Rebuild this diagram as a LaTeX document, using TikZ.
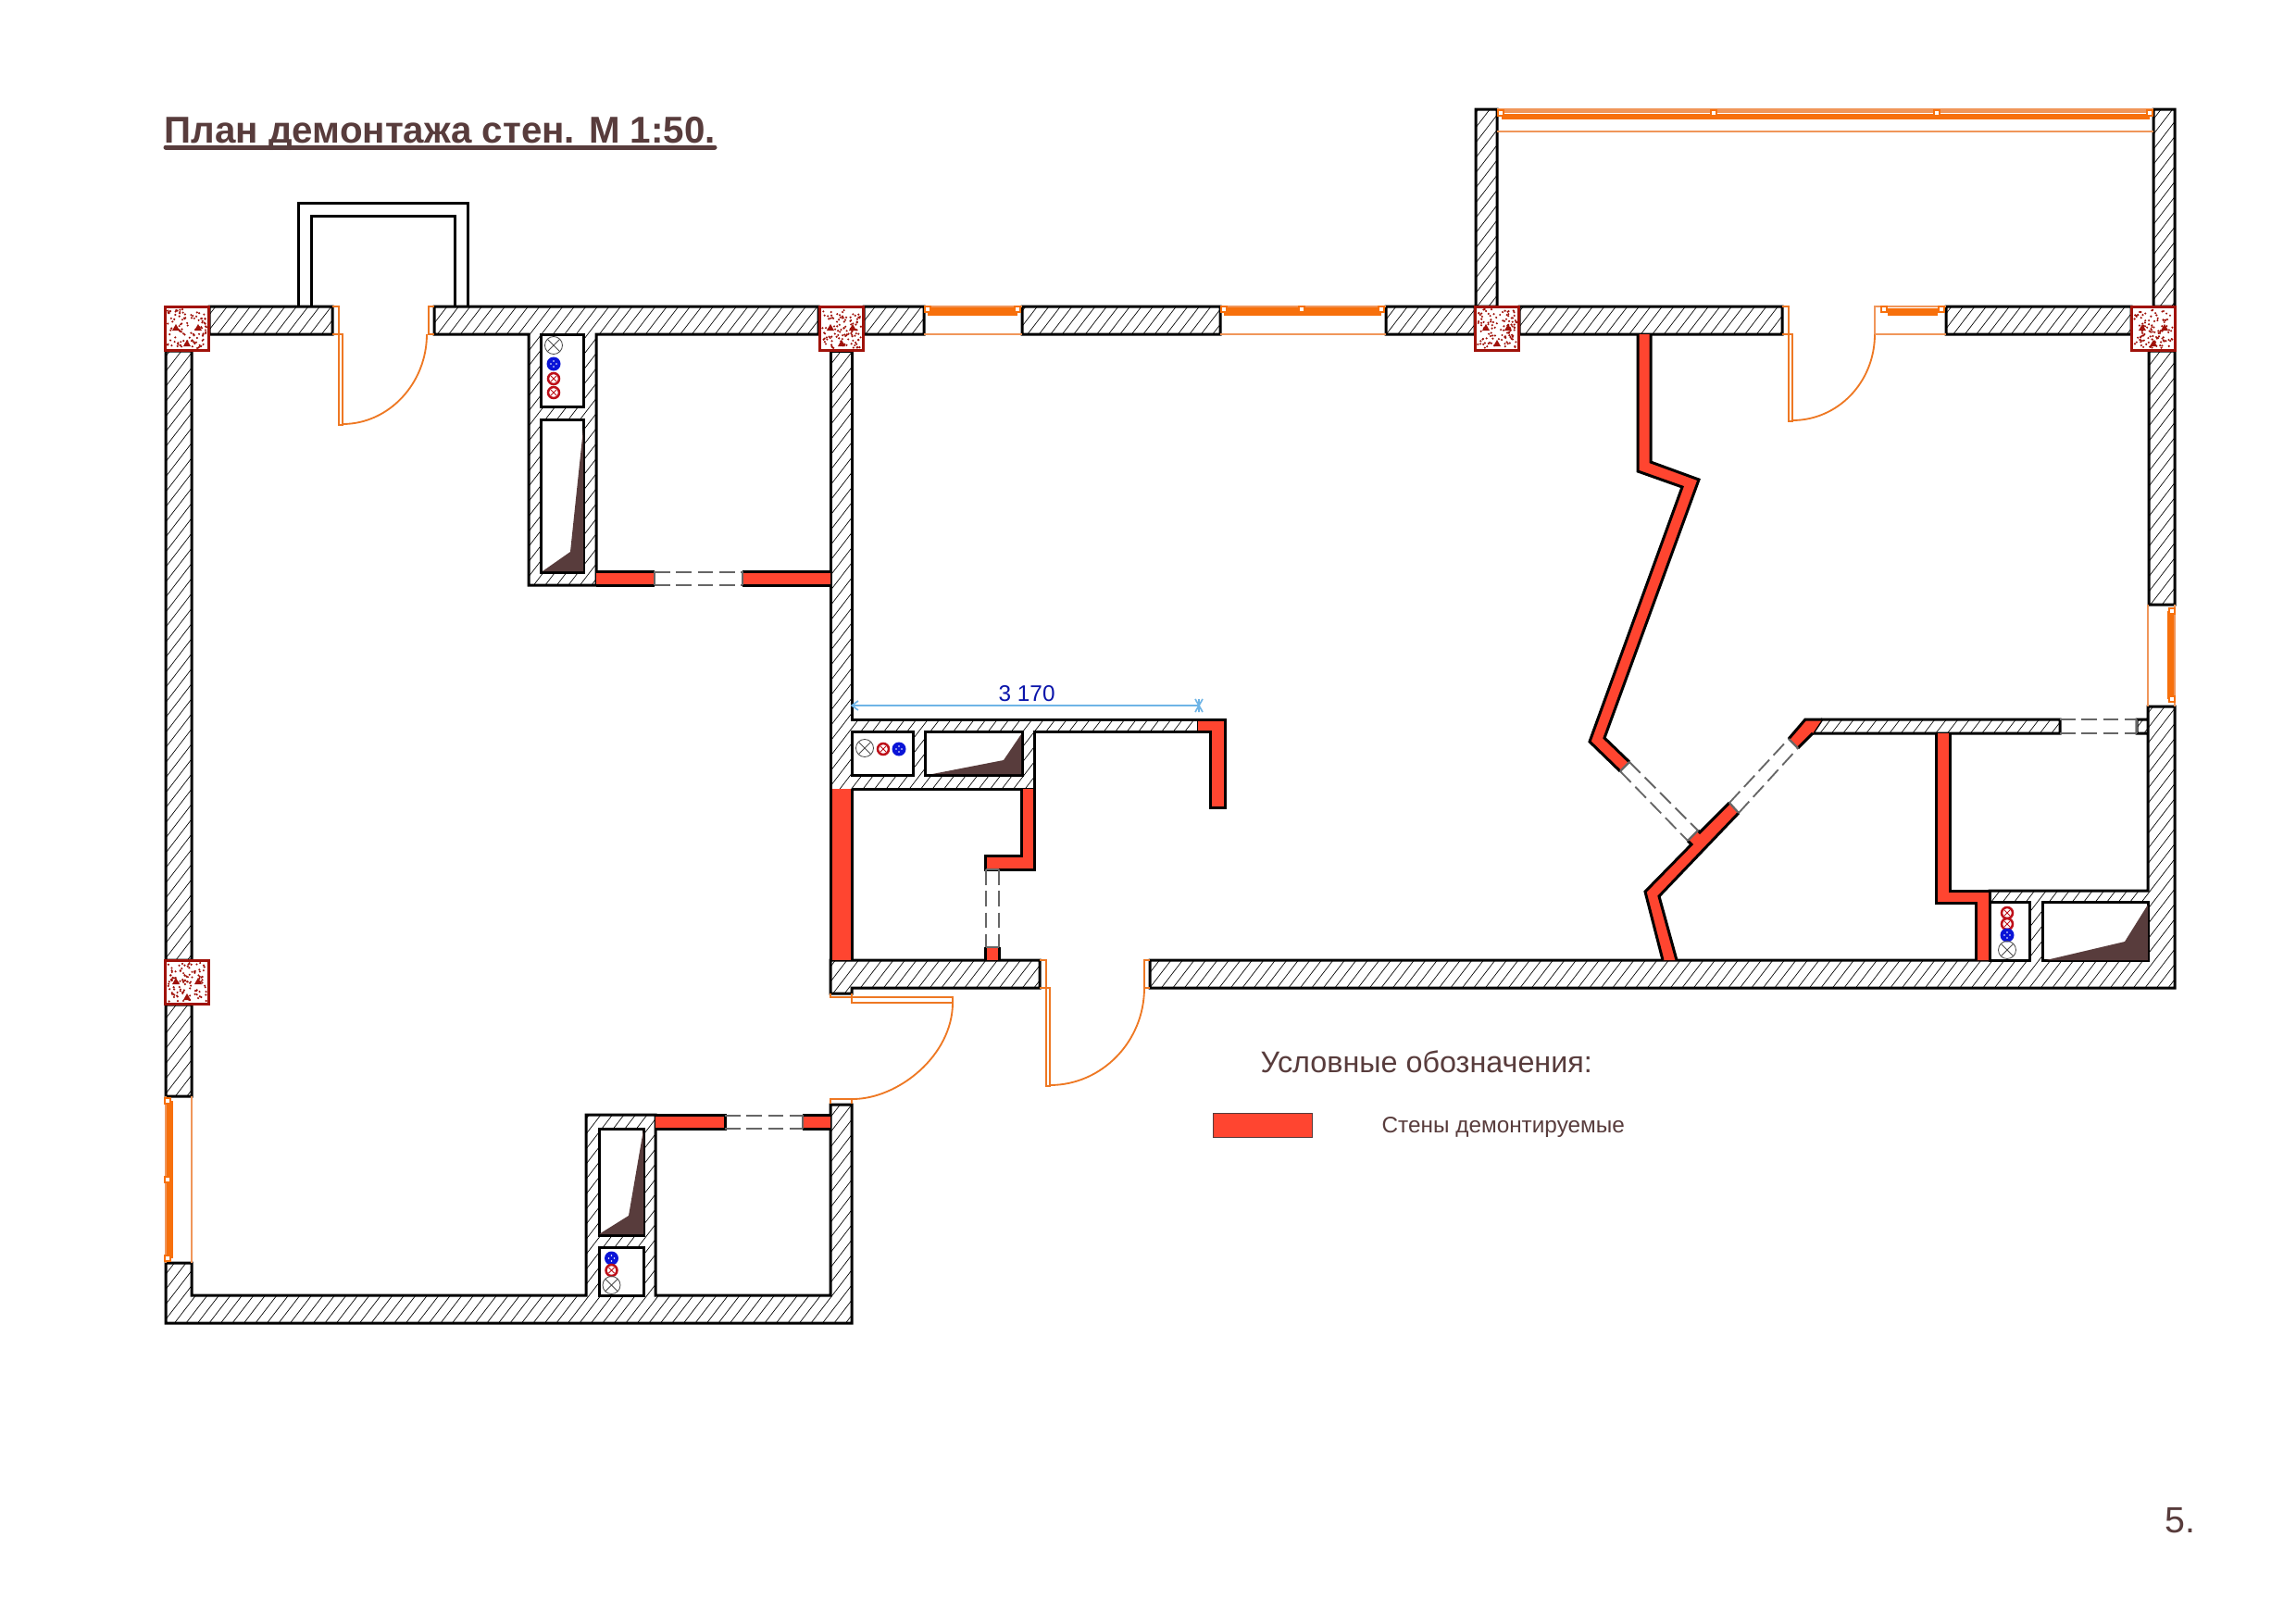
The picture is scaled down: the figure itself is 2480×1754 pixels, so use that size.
\documentclass[tikz,border=0pt]{standalone}
\usepackage{fontspec}
\setmainfont{Liberation Sans}
\definecolor{demored}{RGB}{255,69,48}
\definecolor{brownink}{RGB}{88,60,60}
\definecolor{winorange}{RGB}{247,112,12}
\definecolor{thinorange}{RGB}{240,150,90}
\definecolor{doororange}{RGB}{238,120,35}
\definecolor{pillarred}{RGB}{160,18,10}
\definecolor{dimblue}{RGB}{110,180,230}
\definecolor{dimtext}{RGB}{10,20,170}
\definecolor{pipered}{RGB}{190,15,25}
\definecolor{pipeblue}{RGB}{10,20,215}
\tikzset{
  wl/.style={line width=0.9pt,draw=black,line join=miter},
  hatchline/.style={line width=0.2pt,draw=black},
  demo/.style={fill=demored,draw=none},
  gone/.style={line width=0.55pt,draw=black!60,dash pattern=on 5pt off 2pt},
  goneend/.style={line width=0.65pt,draw=black!60},
  doorline/.style={line width=0.55pt,draw=doororange},
  winbar/.style={fill=winorange,draw=none},
  winthin/.style={line width=0.6pt,draw=thinorange},
  winsq/.style={line width=0.4pt,draw=winorange,fill=white},
  boxwall/.style={line width=0.9pt,draw=black,fill=white},
  wedge/.style={fill=brownink,draw=none},
  pillarframe/.style={line width=1.1pt,draw=pillarred},
  txt/.style={anchor=base west,inner sep=0pt,text=brownink}
}
% closed hatched walls
\def\ClosedWalls{
 (226,331)--(359,331)--(359,361)--(226,361)--cycle
 (469,331)--(884,331)--(884,361)--(644,361)--(644,632)--(571,632)--(571,361)--(469,361)--cycle
 (179,379)--(207,379)--(207,1037)--(179,1037)--cycle
 (179,1085)--(207,1085)--(207,1184)--(179,1184)--cycle
 (179,1364)--(207,1364)--(207,1399)--(633,1399)--(633,1204)--(708,1204)--(708,1399)--(897,1399)--(897,1193)--(920,1193)--(920,1429)--(179,1429)--cycle
 (897,1037)--(1123,1037)--(1123,1067)--(920,1067)--(920,1073)--(897,1073)--cycle
 (1242,1037)--(2149,1037)--(2149,962)--(2320,962)--(2320,763)--(2349,763)--(2349,1067)--(1242,1067)--cycle
 (1968,777)--(2225,777)--(2225,792)--(1958,792)--cycle
 (2308,777)--(2320,777)--(2320,792)--(2308,792)--cycle
 (933,331)--(998,331)--(998,361)--(933,361)--cycle
 (1104,331)--(1318,331)--(1318,361)--(1104,361)--cycle
 (1497,331)--(1593,331)--(1593,361)--(1497,361)--cycle
 (1641,331)--(1925,331)--(1925,361)--(1641,361)--cycle
 (2102,331)--(2302,331)--(2302,361)--(2102,361)--cycle
 (1594,118)--(1617,118)--(1617,331)--(1594,331)--cycle
 (2326,118)--(2349,118)--(2349,331)--(2326,331)--cycle
 (2321,379)--(2349,379)--(2349,653)--(2321,653)--cycle
}
\def\MidWall{(897,852)--(897,379)--(920,379)--(920,777)--(1294,777)--(1294,790)--(1117,790)--(1117,852)--(920,852)}
% symbols
\newcommand{\gaspipe}[2]{%
  \draw[line width=0.25pt,draw=black!70] (#1,#2) circle [radius=9.5];
  \draw[line width=0.25pt,draw=black!70] (#1-6.7,#2-6.7)--(#1+6.7,#2+6.7) (#1-6.7,#2+6.7)--(#1+6.7,#2-6.7);}
\newcommand{\redpipe}[2]{%
  \draw[line width=0.75pt,draw=pipered,fill=white] (#1,#2) circle [radius=6];
  \draw[line width=0.3pt,draw=pipered] (#1-3,#2-3)--(#1+3,#2+3) (#1-3,#2+3)--(#1+3,#2-3);}
\newcommand{\bluepipe}[2]{%
  \fill[pipeblue] (#1,#2) circle [radius=7.5];
  \fill[white] (#1,#2-3) circle [radius=.8] (#1,#2+3) circle [radius=.8] (#1-3,#2) circle [radius=.8] (#1+3,#2) circle [radius=.8];}
% pillar
\newcommand{\pillar}[2]{%
  \begin{scope}[shift={(#1,#2)}]
    \fill[white] (0,0) rectangle (48,48);
    \foreach \k in {1,...,110}{
      \pgfmathsetmacro\px{3+42*rnd}
      \pgfmathsetmacro\py{3+42*rnd}
      \fill[pillarred] (\px,\py) circle [radius=1.2];
    }
    \fill[pillarred] (12,19)--(16,26)--(8,26)--cycle (36,19)--(40,26)--(32,26)--cycle (24,36)--(28,43)--(20,43)--cycle;
    \draw[pillarframe] (0.5,0.5) rectangle (47.5,47.5);
  \end{scope}}
% sliding marks
\newcommand{\winsqat}[2]{\draw[winsq] (#1-3,#2-3) rectangle (#1+3,#2+3);}
\begin{document}
\begin{tikzpicture}[x=0.3pt,y=-0.3pt]
\useasboundingbox (0,0) rectangle (2480,1754);
\fill[white] (0,0) rectangle (2480,1754);
\pgfmathsetseed{4711}

% hatching
\begin{scope}
  \clip \ClosedWalls (897,379)--(920,379)--(920,777)--(1294,777)--(1294,790)--(1117,790)--(1117,852)--(897,852)--cycle;
  \foreach \h in {0,12.5,...,3920}{
    \draw[hatchline] (\h,0)--(\h-1349,1754);
  }
\end{scope}
\draw[wl] \ClosedWalls;
\draw[wl] \MidWall;

% entrance vestibule
\draw[wl] (322,331)--(322,219)--(505,219)--(505,331);
\draw[wl] (336,331)--(336,233)--(491,233)--(491,331);

% boxes and wedges
\draw[boxwall] (584,361) rectangle (630,439);
\draw[boxwall] (584,453) rectangle (630,618);
\fill[wedge] (630,463)--(616,596)--(586,617)--(630,617)--cycle;
\gaspipe{598}{373}\bluepipe{598}{393}\redpipe{598}{409}\redpipe{598}{424}

\draw[boxwall] (920,790) rectangle (986,837);
\draw[boxwall] (999,790) rectangle (1104,837);
\fill[wedge] (1103,793)--(1084,821)--(1007,836)--(1103,836)--cycle;
\gaspipe{934}{808}\redpipe{954}{809}\bluepipe{971}{809}

\draw[boxwall] (647,1219) rectangle (695,1334);
\draw[boxwall] (647,1347) rectangle (695,1399);
\fill[wedge] (695,1220)--(679,1313)--(647,1333)--(695,1333)--cycle;
\bluepipe{660.5}{1359}\redpipe{660.5}{1372}\gaspipe{660.5}{1388}

\draw[boxwall] (2149,974) rectangle (2192,1037);
\draw[boxwall] (2206,974) rectangle (2320,1037);
\fill[wedge] (2320,977)--(2295,1017)--(2210,1037)--(2320,1037)--cycle;
\redpipe{2168}{986}\redpipe{2168}{998}\bluepipe{2168}{1010}\gaspipe{2168}{1026}

% demolished walls
\fill[demo] (644,617) rectangle (707,632);
\draw[wl] (644,617)--(707,617) (707,632)--(644,632);
\fill[demo] (802,617) rectangle (897,632);
\draw[wl] (897,617)--(802,617) (802,632)--(897,632);
\draw[gone] (707,618)--(802,618) (707,632)--(802,632);
\draw[goneend] (707,617)--(707,632) (802,617)--(802,632);

\fill[demo] (708,1204) rectangle (783,1219);
\draw[wl] (708,1204)--(783,1204)--(783,1219)--(708,1219);
\fill[demo] (867,1204) rectangle (897,1219);
\draw[wl] (897,1204)--(867,1204) (867,1219)--(897,1219);
\draw[gone] (783,1205)--(867,1205) (783,1219)--(867,1219);
\draw[goneend] (867,1204)--(867,1219);

\fill[demo] (1294,777)--(1323,777)--(1323,872)--(1307,872)--(1307,790)--(1294,790)--cycle;
\draw[wl] (1294,777)--(1323,777)--(1323,872)--(1307,872)--(1307,790)--(1294,790);

\fill[demo] (897,852) rectangle (920,1037);
\draw[wl] (897,852)--(897,1037) (920,852)--(920,1037);

\fill[demo] (1103,852)--(1117,852)--(1117,939)--(1064,939)--(1064,924)--(1103,924)--cycle;
\draw[wl] (1103,852)--(1103,924)--(1064,924)--(1064,939)--(1117,939)--(1117,852);
\draw[gone] (1065,939)--(1065,1023) (1079,939)--(1079,1023);
\draw[goneend] (1065,939)--(1079,939);
\fill[demo] (1064,1023) rectangle (1079,1037);
\draw[wl] (1064,1037)--(1064,1023) (1079,1023)--(1079,1037);
\draw[goneend] (1065,1023)--(1079,1023);

% angled wall, upper part
\fill[demo] (1769,361)--(1783,361)--(1783,499)--(1835,518)--(1733,797)--(1760,823)--(1750,833)--(1717,801)--(1817,526)--(1769,509)--cycle;
\draw[wl] (1769,361)--(1769,509)--(1817,526)--(1717,801)--(1750,833);
\draw[wl] (1783,361)--(1783,499)--(1835,518)--(1733,797)--(1760,823);
\draw[goneend] (1750,833)--(1760,823);
\draw[gone] (1750,833)--(1823,908) (1760,823)--(1834,897);
% angled wall, lower part
\fill[demo] (1868,867)--(1878,878)--(1792,968)--(1811,1037)--(1796,1037)--(1777,963)--(1827,912)--(1823,908)--(1834,897)--(1836,899)--cycle;
\draw[wl] (1868,867)--(1836,899)--(1834,897);
\draw[wl] (1823,908)--(1827,912)--(1777,963)--(1796,1037);
\draw[wl] (1878,878)--(1792,968)--(1811,1037);
\draw[goneend] (1823,908)--(1834,897) (1868,867)--(1878,878);
\draw[gone] (1868,867)--(1932,798) (1878,878)--(1942,808);
% angled wall, top stub
\fill[demo] (1950,777)--(1968,777)--(1958,792)--(1942,808)--(1932,798)--cycle;
\draw[wl] (1968,777)--(1950,777)--(1932,798);
\draw[wl] (1958,792)--(1942,808);
\draw[goneend] (1932,798)--(1942,808);
% gap in the horizontal partition
\draw[gone] (2225,777)--(2308,777) (2225,792)--(2308,792);
\draw[goneend] (2308,777)--(2308,792);

% partition at lower right
\fill[demo] (2091,792)--(2106,792)--(2106,962)--(2149,962)--(2149,1037)--(2134.5,1037)--(2134.5,975)--(2091,975)--cycle;
\draw[wl] (2106,792)--(2106,962)--(2149,962)--(2149,1037);
\draw[wl] (2091,792)--(2091,975)--(2134.5,975)--(2134.5,1037);

% pillars
\pillar{178}{331}\pillar{885}{331}\pillar{1593}{331}\pillar{2302}{331}\pillar{178}{1037}

% doors
\draw[doorline] (359,331)--(366,331)--(366,361)--(359,361);
\draw[doorline] (366,361) rectangle (370,459);
\draw[doorline] (469,331)--(463,331)--(463,361)--(469,361);
\draw[doorline] (461,361) .. controls (461,414) and (420,458) .. (370,458);

\draw[doorline] (1123,1037)--(1130,1037)--(1130,1067)--(1123,1067);
\draw[doorline] (1130,1067) rectangle (1134,1173);
\draw[doorline] (1242,1037)--(1236,1037)--(1236,1067)--(1242,1067);
\draw[doorline] (1236,1067) .. controls (1236,1125) and (1190,1172) .. (1134,1172);

\draw[doorline] (897,1073)--(897,1077)--(920,1077)--(920,1073);
\draw[doorline] (920,1077) rectangle (1029,1083);
\draw[doorline] (1029,1083) .. controls (1029,1140) and (970,1187) .. (921,1187);
\draw[doorline] (897,1192)--(897,1187)--(920,1187)--(920,1192);

\draw[doorline] (1925,331)--(1932,331)--(1932,361)--(1925,361);
\draw[doorline] (1932,361) rectangle (1936,455);
\draw[doorline] (2025,361) .. controls (2025,413) and (1985,454) .. (1936,454);

% windows
\fill[winbar] (1002,332) rectangle (1099,341);
\draw[winthin] (998,331)--(1104,331) (998,361)--(1104,361);
\winsqat{1002}{334}\winsqat{1099}{334}
\fill[winbar] (1322,332) rectangle (1492,341);
\draw[winthin] (1318,331)--(1497,331) (1318,361)--(1497,361);
\winsqat{1322}{334}\winsqat{1406}{334}\winsqat{1492}{334}

\draw[winthin] (2025,361)--(2025,331)--(2102,331) (2025,361)--(2102,361);
\fill[winbar] (2039,333) rectangle (2093,341);
\winsqat{2035}{334}\winsqat{2097}{334}

\fill[thinorange] (1617,118) rectangle (2326,122);
\fill[winbar] (1622,122.5) rectangle (2322,129);
\draw[winthin] (1617,118)--(2326,118) (1617,142)--(2326,142);
\winsqat{1621}{122}\winsqat{1851}{122}\winsqat{2092}{122}\winsqat{2322}{122}

\fill[winbar] (179,1189) rectangle (187,1359);
\draw[winthin] (179,1184)--(179,1364) (207,1184)--(207,1364);
\winsqat{181}{1189}\winsqat{181}{1274}\winsqat{181}{1359}

\fill[winbar] (2341,660) rectangle (2349,755);
\draw[winthin] (2349,653)--(2349,763) (2320,653)--(2320,763);
\winsqat{2346}{660}\winsqat{2346}{755}

% dimension
\draw[line width=0.5pt,draw=dimblue] (920,762)--(1295,762);
\draw[line width=0.5pt,draw=dimblue] (927,757)--(920,762)--(927,767) (1291,755)--(1299,769) (1295,755)--(1295,769) (1299,755)--(1291,769);
\node[anchor=base west,inner sep=0pt,text=dimtext,font=\fontsize{7.3}{9}\selectfont] (dimlabel) at (1078,757) {3 170};

% title
\node[txt,font=\fontsize{12.1}{14}\selectfont\bfseries] (title) at (177,154) {План демонтажа стен. М 1:50.};
\draw[line width=1.5pt,draw=brownink,line cap=round] (179,159)--(772,159);

% legend
\node[txt,font=\fontsize{9.7}{11}\selectfont] (legendhead) at (1361,1158) {Условные обозначения:};
\draw[line width=0.3pt,draw=brownink,fill=demored] (1310,1202) rectangle (1417,1228);
\node[txt,font=\fontsize{7.3}{9}\selectfont] (legenditem) at (1492,1223) {Стены демонтируемые};
\node[txt,font=\fontsize{11.8}{14}\selectfont] (pageno) at (2338,1655) {5.};
\end{tikzpicture}
\end{document}
